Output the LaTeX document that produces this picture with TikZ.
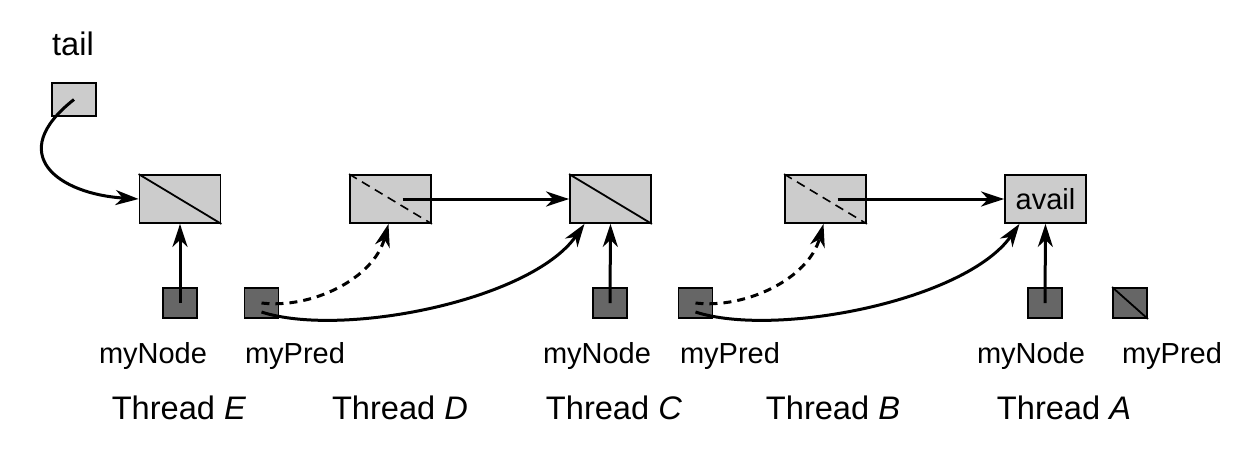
\documentclass[tikz,border=0pt]{standalone}
\usepackage{fontspec}
\setmainfont{Liberation Sans}
\usetikzlibrary{arrows.meta}

\tikzset{
  qnode/.style={rectangle, draw, line width=0.9pt, fill=black!20, minimum width=40.5pt, minimum height=24pt, inner sep=0pt},
  ptr/.style={rectangle, draw, line width=0.9pt, fill=black!60, minimum width=17pt, minimum height=15pt, inner sep=0pt},
  lbl/.style={anchor=base, inner sep=0pt, font=\fontsize{14.5}{16}\selectfont},
  thr/.style={anchor=base, inner sep=0pt, font=\fontsize{16.3}{19}\selectfont},
  link/.style={->, line width=1.5pt},
}

\begin{document}
\begin{tikzpicture}[x=0.5pt, y=-0.5pt, >={Stealth[length=11.5pt,width=7.5pt,inset=3.5pt]}]
        \useasboundingbox (0,0) rectangle (1248,457);

        \node[rectangle, draw, line width=0.9pt, fill=black!20, minimum width=22pt, minimum height=16.5pt, inner sep=0pt] (tail) at (74,99.5) {};
        \node[thr] (taillbl) at (73,55) {tail};

        \node[qnode] (qE) at (180,199) {};
        \node[qnode] (qD) at (390.5,199) {};
        \node[qnode] (qC) at (610.5,199) {};
        \node[qnode] (qB) at (825.5,199) {};
        \node[qnode, font=\fontsize{14.5}{16}\selectfont] (avail) at (1045.5,199) {avail};

        \node[ptr] (nE) at (180,303) {};
        \node[ptr] (pD) at (261.5,303) {};
        \node[ptr] (nC) at (610,303) {};
        \node[ptr] (pB) at (695.5,303) {};
        \node[ptr] (nA) at (1045,303) {};
        \node[ptr] (pA) at (1130,303) {};

        % diagonals
        \draw[line width=0.9pt] (qE.north west) -- (qE.south east);
        \draw[line width=0.9pt] (qC.north west) -- (qC.south east);
        \draw[line width=0.8pt, dash pattern=on 4.5pt off 3pt] (qD.north west) -- (qD.south east);
        \draw[line width=0.8pt, dash pattern=on 4.5pt off 3pt] (qB.north west) -- (qB.south east);
        \draw[line width=0.9pt] (pA.north west) -- (pA.south east);

        % labels
        \node[lbl] (lnE) at (153,363) {myNode};
        \node[lbl] (lpD) at (295,363) {myPred};
        \node[lbl] (lnC) at (597,363) {myNode};
        \node[lbl] (lpB) at (730,363) {myPred};
        \node[lbl] (lnA) at (1031,363) {myNode};
        \node[lbl] (lpA) at (1172,363) {myPred};

        \node[thr] (tE) at (179,419) {Thread \textit{E}};
        \node[thr] (tD) at (400,419) {Thread \textit{D}};
        \node[thr] (tC) at (614,419) {Thread \textit{C}};
        \node[thr] (tB) at (833,419) {Thread \textit{B}};
        \node[thr] (tA) at (1064,419) {Thread \textit{A}};

        % pointers
        \draw[link] (tail.center) .. controls +(-70,55) and +(-80,-5) .. (qE.west);
        \draw[link] ([xshift=6pt]qD.center) -- (qC.west);
        \draw[link] ([xshift=6pt]qB.center) -- (avail.west);

        \draw[link] (nE.center) -- (qE.south);
        \draw[link] (nC.center) -- (qC.south);
        \draw[link] (nA.center) -- (avail.south);

        \draw[link, dash pattern=on 4pt off 3pt] (pD.center) .. controls +(50,6) and +(-15,55) .. ([xshift=-1pt]qD.south);
        \draw[link] ([yshift=-4.5pt]pD.center) .. controls +(80,26) and +(-54,77) .. ([xshift=-13pt]qC.south);
        \draw[link, dash pattern=on 4pt off 3pt] (pB.center) .. controls +(50,6) and +(-15,55) .. ([xshift=-1pt]qB.south);
        \draw[link] ([yshift=-4.5pt]pB.center) .. controls +(80,26) and +(-54,77) .. ([xshift=-13pt]avail.south);

    \end{tikzpicture}
\end{document}
